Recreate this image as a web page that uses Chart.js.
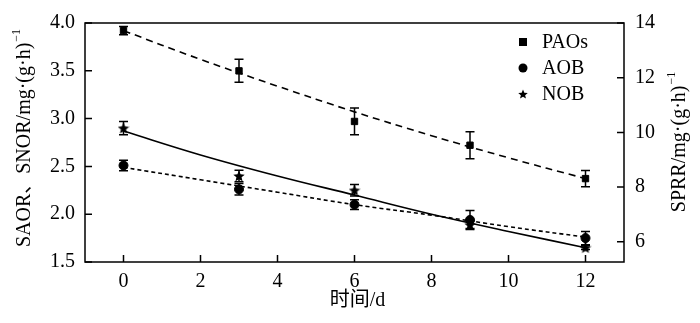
<!DOCTYPE html>
<html>
<head>
<meta charset="utf-8">
<script src="https://cdn.jsdelivr.net/npm/chart.js@4.4.0/dist/chart.umd.min.js"></script>
<style>
  html, body { margin: 0; padding: 0; background: #fff; }
  canvas { display: block; }
</style>
</head>
<body>
<canvas id="rateChart" width="700" height="323"></canvas>
<script>
// jours de mesure
const days = [0, 3, 6, 9, 12];
// PAOs -> axe de droite (SPRR)
const paosRate = [13.72, 12.25, 10.40, 9.53, 8.31];
const paosErr = [0.15, 0.42, 0.49, 0.49, 0.30];
// AOB / NOB -> axe de gauche
const aobRate = [2.51, 2.26, 2.10, 1.94, 1.75];
const aobErr = [0.055, 0.06, 0.05, 0.10, 0.07];
const nobRate = [2.90, 2.40, 2.25, 1.89, 1.65];
const nobErr = [0.07, 0.06, 0.06, 0.04, 0.02];

// courbes d'ajustement
const fitDays = [0, 2, 4, 6, 8, 10, 12];
const paosFit = [13.72, 12.67, 11.69, 10.75, 9.88, 9.07, 8.31];
const aobFit = [2.49, 2.36, 2.23, 2.10, 1.99, 1.87, 1.76];
const nobFit = [2.87, 2.62, 2.40, 2.20, 2.00, 1.82, 1.65];

const xTicks = [0, 2, 4, 6, 8, 10, 12];
const yTicks = [1.5, 2.0, 2.5, 3.0, 3.5, 4.0];
const y2Ticks = [6, 8, 10, 12, 14];

const serif = '"Liberation Serif", "Times New Roman", "Noto Sans CJK SC", serif';

function pts(xs, ys) {
    return xs.map((x, i) => ({ x: x, y: ys[i] }));
}

// étoile pleine pour NOB
function makeStar(size) {
    const c = document.createElement('canvas');
    c.width = size;
    c.height = size;
    const g = c.getContext('2d');
    const r = size / 2, ri = r * 0.45;
    g.beginPath();
    for (let i = 0; i < 10; i++) {
        const a = -Math.PI / 2 + i * Math.PI / 5;
        const rr = i % 2 === 0 ? r : ri;
        g.lineTo(r + rr * Math.cos(a), r + 0.5 + rr * Math.sin(a));
    }
    g.closePath();
    g.fillStyle = '#000';
    g.fill();
    return c;
}
const starImg = makeStar(12);
const starSmall = makeStar(10);

function keepTicks(list) {
    return scale => {
        scale.ticks = list.map(v => ({ value: v }));
    };
}

function drawTitle(ctx, text, cx, cy, rot, size) {
    ctx.save();
    ctx.translate(cx, cy);
    ctx.rotate(rot);
    ctx.font = size + 'px ' + serif;
    const w = ctx.measureText(text).width;
    ctx.font = Math.round(size * 0.62) + 'px ' + serif;
    const ws = ctx.measureText('\u22121').width;
    const x0 = -(w + ws) / 2;
    ctx.fillStyle = '#000';
    ctx.textBaseline = 'middle';
    ctx.textAlign = 'left';
    ctx.font = size + 'px ' + serif;
    ctx.fillText(text, x0, 0);
    ctx.font = Math.round(size * 0.62) + 'px ' + serif;
    ctx.fillText('\u22121', x0 + w + 1, -size * 0.42);
    ctx.restore();
}

const decorPlugin = {
    id: 'decor',
    afterDatasetsDraw(chart) {
        const ctx = chart.ctx;
        const a = chart.chartArea;
        const sx = chart.scales.x, sy = chart.scales.y, sy2 = chart.scales.y2;
        ctx.save();
        ctx.strokeStyle = '#000';
        ctx.lineWidth = 1.5;
        ctx.strokeRect(a.left, a.top, a.right - a.left, a.bottom - a.top);

        // graduations vers l'intérieur
        const tl = 7;
        ctx.beginPath();
        xTicks.forEach(v => {
            const px = sx.getPixelForValue(v);
            ctx.moveTo(px, a.bottom);
            ctx.lineTo(px, a.bottom - tl);
        });
        yTicks.forEach(v => {
            const py = sy.getPixelForValue(v);
            ctx.moveTo(a.left, py);
            ctx.lineTo(a.left + tl, py);
        });
        y2Ticks.forEach(v => {
            const py = sy2.getPixelForValue(v);
            ctx.moveTo(a.right, py);
            ctx.lineTo(a.right - tl, py);
        });
        ctx.stroke();

        // barres d'erreur
        ctx.lineWidth = 1.5;
        const series = [
            [paosRate, paosErr, sy2],
            [aobRate, aobErr, sy],
            [nobRate, nobErr, sy]
        ];
        series.forEach(([vals, errs, sc]) => {
            vals.forEach((v, i) => {
                const px = sx.getPixelForValue(days[i]);
                const top = sc.getPixelForValue(v + errs[i]);
                const bot = sc.getPixelForValue(v - errs[i]);
                ctx.beginPath();
                ctx.moveTo(px, top);
                ctx.lineTo(px, bot);
                ctx.moveTo(px - 4.5, top);
                ctx.lineTo(px + 4.5, top);
                ctx.moveTo(px - 4.5, bot);
                ctx.lineTo(px + 4.5, bot);
                ctx.stroke();
            });
        });

        // légende
        ctx.fillStyle = '#000';
        ctx.font = '20px ' + serif;
        ctx.textBaseline = 'middle';
        ctx.textAlign = 'left';
        const lx = 523, tx = 542;
        ctx.fillRect(lx - 4, 42 - 4, 8, 8);
        ctx.fillText('PAOs', tx, 43);
        ctx.beginPath();
        ctx.arc(lx, 68, 4.5, 0, Math.PI * 2);
        ctx.fill();
        ctx.fillText('AOB', tx, 69);
        ctx.drawImage(starSmall, lx - 5, 94 - 5);
        ctx.fillText('NOB', tx, 95);

        // titres des axes
        const midY = (a.top + a.bottom) / 2;
        drawTitle(ctx, 'SAOR\u3001SNOR/mg\u00b7(g\u00b7h)', 25, midY - 4, -Math.PI / 2, 20);
        drawTitle(ctx, 'SPRR/mg\u00b7(g\u00b7h)', 680, midY, -Math.PI / 2, 20);
        ctx.font = '20px ' + serif;
        ctx.textAlign = 'center';
        ctx.fillText('\u65f6\u95f4/d', (a.left + a.right) / 2 + 3, 301);
        ctx.restore();
    }
};

new Chart(document.getElementById('rateChart'), {
    type: 'scatter',
    data: {
        datasets: [
            {
                label: 'PAOs fit',
                data: pts(fitDays, paosFit),
                yAxisID: 'y2',
                showLine: true,
                borderColor: '#000',
                borderWidth: 1.6,
                borderDash: [7, 5],
                pointRadius: 0,
                tension: 0.4
            },
            {
                label: 'AOB fit',
                data: pts(fitDays, aobFit),
                yAxisID: 'y',
                showLine: true,
                borderColor: '#000',
                borderWidth: 1.6,
                borderDash: [4, 3],
                pointRadius: 0,
                tension: 0.4
            },
            {
                label: 'NOB fit',
                data: pts(fitDays, nobFit),
                yAxisID: 'y',
                showLine: true,
                borderColor: '#000',
                borderWidth: 1.6,
                pointRadius: 0,
                tension: 0.4
            },
            {
                label: 'PAOs',
                data: pts(days, paosRate),
                yAxisID: 'y2',
                pointStyle: 'rect',
                pointRadius: 4.5,
                backgroundColor: '#000',
                borderColor: '#000'
            },
            {
                label: 'AOB',
                data: pts(days, aobRate),
                yAxisID: 'y',
                pointStyle: 'circle',
                pointRadius: 4.5,
                backgroundColor: '#000',
                borderColor: '#000'
            },
            {
                label: 'NOB',
                data: pts(days, nobRate),
                yAxisID: 'y',
                pointStyle: starImg,
                pointRadius: 6,
                backgroundColor: '#000',
                borderColor: '#000'
            }
        ]
    },
    options: {
        responsive: false,
        animation: false,
        layout: { padding: { top: 14, left: 0, right: 0, bottom: 0 } },
        plugins: {
            legend: { display: false },
            tooltip: { enabled: false }
        },
        scales: {
            x: {
                type: 'linear',
                min: -1,
                max: 13,
                afterBuildTicks: keepTicks(xTicks),
                afterFit: s => { s.height = 61; },
                grid: { display: false, drawTicks: false },
                border: { display: false },
                ticks: { color: '#000', padding: 8, font: { family: serif, size: 20 } }
            },
            y: {
                position: 'left',
                min: 1.5,
                max: 4.0,
                afterBuildTicks: keepTicks(yTicks),
                afterFit: s => { s.width = 85; },
                grid: { display: false, drawTicks: false },
                border: { display: false },
                ticks: {
                    color: '#000',
                    padding: 10,
                    font: { family: serif, size: 20 },
                    callback: v => v.toFixed(1)
                }
            },
            y2: {
                position: 'right',
                min: 5.26,
                max: 14,
                afterBuildTicks: keepTicks(y2Ticks),
                afterFit: s => { s.width = 76; },
                grid: { display: false, drawTicks: false },
                border: { display: false },
                ticks: { color: '#000', padding: 11, font: { family: serif, size: 20 } }
            }
        }
    },
    plugins: [decorPlugin]
});
</script>
</body>
</html>
